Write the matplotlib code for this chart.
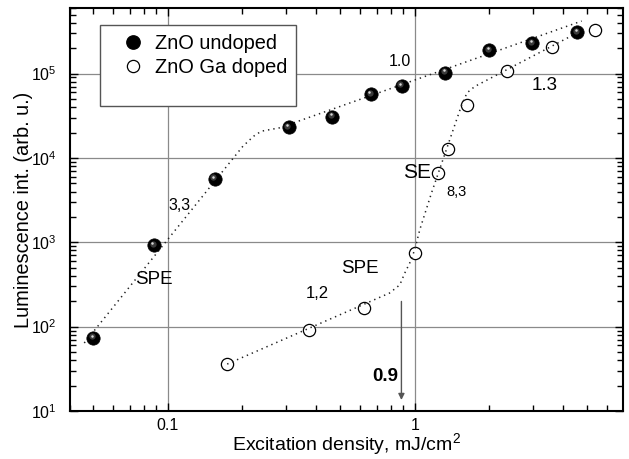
import numpy as np
import matplotlib
matplotlib.use("Agg")
import matplotlib.pyplot as plt
import matplotlib.transforms as mtransforms
from matplotlib.patches import Rectangle
from matplotlib.ticker import LogLocator, FixedLocator, FuncFormatter, NullFormatter
from matplotlib.lines import Line2D

plt.rcParams['font.family'] = ['Liberation Sans', 'DejaVu Sans']
plt.rcParams['mathtext.fontset'] = 'custom'
plt.rcParams['mathtext.rm'] = 'Liberation Sans'
plt.rcParams['mathtext.it'] = 'Liberation Sans:italic'
plt.rcParams['mathtext.bf'] = 'Liberation Sans:bold'

# ---- data ----
undoped_x = [0.050, 0.088, 0.155, 0.309, 0.464, 0.664, 0.886, 1.33, 2.00, 2.99, 4.55]
undoped_y = [73, 920, 5650, 23000, 30800, 56600, 71000, 103000, 189000, 228000, 308000]

doped_x = [0.174, 0.373, 0.621, 1.00, 1.243, 1.369, 1.625, 2.366, 3.60, 5.37]
doped_y = [36, 92, 166, 752, 6650, 12800, 42700, 108000, 205000, 332000]

fit_undoped_x = [0.0459, 0.2014, 0.2226, 0.239, 0.2836, 4.74]
fit_undoped_y = [64, 13770, 18100, 20750, 22770, 420000]

fit_doped_x = [0.174, 0.79, 0.87, 0.911, 0.954, 1.0, 1.048, 1.169, 1.551, 1.629, 1.751, 4.67]
fit_doped_y = [36, 250, 313, 432, 568, 817, 1412, 3850, 43100, 59300, 70500, 317000]

arrow_x = 0.883
arrow_y_from = 199
arrow_y_to = 13.5

legend_labels = ["ZnO undoped", "ZnO Ga doped"]
x_tick_values = [0.1, 1]
x_tick_labels = ["0.1", "1"]

annotations = [
    ("1.0", 0.869, 1.38e5, 11.5, 'normal'),
    ("1.3", 3.365, 7.25e4, 13.5, 'normal'),
    ("SE", 1.023, 6760, 15, 'normal'),
    ("8,3", 1.476, 3920, 10.5, 'normal'),
    ("3,3", 0.1115, 2720, 11.5, 'normal'),
    ("SPE", 0.0877, 360, 13.5, 'normal'),
    ("SPE", 0.597, 495, 13.5, 'normal'),
    ("1,2", 0.404, 245, 12, 'normal'),
    ("0.9", 0.756, 25.5, 13.5, 'bold'),
]

# ---- figure ----
fig = plt.figure(figsize=(6.29, 4.59), dpi=100)
ax = fig.add_axes([0.1105, 0.1046, 0.8800, 0.8780])
ax.set_xscale('log')
ax.set_yscale('log')
ax.set_xlim(0.04, 6.97)
ax.set_ylim(10, 6.0e5)

ax.grid(True, which='major', color='#8a8a8a', lw=0.9, zorder=0)
ax.set_axisbelow(True)

# fit lines
dots = (0, (0.9, 2.6))
ax.plot(fit_undoped_x, fit_undoped_y, color='#222222', lw=1.1, ls=dots, zorder=2)

# doped open circles
ax.plot(doped_x, doped_y, ls='none', marker='o', ms=8.8, mfc='white', mec='black', mew=0.9, zorder=3)
ax.plot(fit_doped_x, fit_doped_y, color='#222222', lw=1.1, ls=dots, zorder=4)

# undoped spheres
ax.plot(undoped_x, undoped_y, ls='none', marker='o', ms=9.6, mfc='black', mec='black', mew=0.5, zorder=5)
off1 = ax.transData + mtransforms.ScaledTranslation(-1.3 / 100, 1.8 / 100, fig.dpi_scale_trans)
off2 = ax.transData + mtransforms.ScaledTranslation(-1.6 / 100, 2.3 / 100, fig.dpi_scale_trans)
ax.plot(undoped_x, undoped_y, ls='none', marker='o', ms=4.5, mfc='#3a3a3a', mec='none', transform=off1, zorder=6)
ax.plot(undoped_x, undoped_y, ls='none', marker='o', ms=1.8, mfc='#d8d8d8', mec='none', transform=off2, zorder=7)

# arrow
ax.annotate('', xy=(arrow_x, arrow_y_to), xytext=(arrow_x, arrow_y_from),
            arrowprops=dict(arrowstyle='-|>', color='#555555', lw=1.0, mutation_scale=9,
                            shrinkA=0, shrinkB=0), zorder=6)

for txt, tx, ty, fs, fw in annotations:
    ax.text(tx, ty, txt, fontsize=fs, fontweight=fw, ha='center', va='center', zorder=8)

# ticks
ax.xaxis.set_major_locator(FixedLocator(x_tick_values))
ax.xaxis.set_major_formatter(FuncFormatter(lambda v, p: x_tick_labels[x_tick_values.index(v)] if v in x_tick_values else ''))
ax.xaxis.set_minor_locator(LogLocator(base=10, subs=np.arange(2, 10), numticks=20))
ax.xaxis.set_minor_formatter(NullFormatter())
ax.yaxis.set_major_locator(LogLocator(base=10, numticks=20))
ax.yaxis.set_major_formatter(FuncFormatter(lambda v, p: r'$\mathregular{10^{%d}}$' % int(round(np.log10(v)))))
ax.yaxis.set_minor_locator(LogLocator(base=10, subs=np.arange(2, 10), numticks=20))
ax.yaxis.set_minor_formatter(NullFormatter())

ax.tick_params(which='both', direction='in', top=True, right=True, labelsize=11.5, width=1.0)
ax.tick_params(which='major', length=6)
ax.tick_params(which='minor', length=4)
ax.tick_params(axis='y', pad=9)
ax.tick_params(axis='x', pad=5)
for s in ax.spines.values():
    s.set_linewidth(1.5)

ax.set_xlabel(r'Excitation density, mJ/cm$^\mathregular{2}$', fontsize=14, labelpad=-1)
ax.set_ylabel('Luminescence int. (arb. u.)', fontsize=14.4, labelpad=-1)

# legend box
ax.add_patch(Rectangle((0.0551, 0.757), 0.354, 0.201, transform=ax.transAxes,
                       facecolor='white', edgecolor='#555555', lw=1.0, zorder=9))
handles = [
    Line2D([], [], ls='none', marker='o', ms=9.6, mfc='black', mec='black'),
    Line2D([], [], ls='none', marker='o', ms=8.8, mfc='white', mec='black', mew=0.9),
]
leg = ax.legend(handles, legend_labels, loc='upper left', bbox_to_anchor=(0.0972, 0.9363),
                frameon=False, fontsize=14.4, handlelength=1.0, handletextpad=0.6,
                labelspacing=0.25, borderpad=0, borderaxespad=0)
leg.set_zorder(10)

fig.savefig('out.png', dpi=100)
